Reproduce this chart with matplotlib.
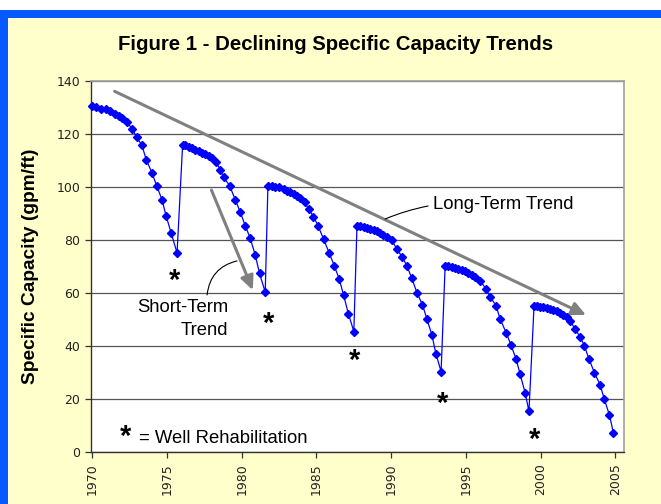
import matplotlib
matplotlib.use("Agg")
import matplotlib.pyplot as plt
from matplotlib.patches import Rectangle
import matplotlib.transforms as mtransforms
import numpy as np

# ---------------- data ----------------
cycle1_years = [1970.00, 1970.27, 1970.58, 1970.92, 1971.20, 1971.49, 1971.76, 1971.99, 1972.33, 1972.66,
                1972.96, 1973.32, 1973.61, 1973.99, 1974.30, 1974.66, 1974.93, 1975.28, 1975.67]
cycle1_vals = [130.3, 130.0, 129.5, 129.3, 128.6, 127.5, 126.8, 126.0, 124.3, 121.9,
               118.8, 115.6, 110.2, 105.3, 100.5, 95.2, 89.2, 82.5, 75.1]

cycle2_years = [1976.04, 1976.22, 1976.44, 1976.67, 1976.89, 1977.11, 1977.34, 1977.56, 1977.78, 1978.01,
                1978.29, 1978.56, 1978.78, 1979.18, 1979.57, 1979.90, 1980.23, 1980.57, 1980.90, 1981.19, 1981.57]
cycle2_vals = [115.8, 115.6, 115.0, 114.6, 114.0, 113.5, 112.9, 112.5, 111.6, 110.9,
               109.3, 106.5, 103.7, 100.5, 95.1, 90.5, 85.4, 80.6, 74.3, 67.4, 60.3]

cycle3_years = [1981.75, 1982.02, 1982.24, 1982.51, 1982.80, 1983.02, 1983.24, 1983.47, 1983.69, 1983.91,
                1984.20, 1984.47, 1984.80, 1985.10, 1985.47, 1985.85, 1986.19, 1986.52, 1986.81, 1987.14, 1987.50]
cycle3_vals = [100.5, 100.3, 100.0, 99.8, 99.3, 98.6, 98.0, 97.4, 96.6, 95.9,
               94.2, 91.7, 88.8, 85.4, 80.4, 75.1, 70.3, 65.3, 59.3, 52.1, 45.5]

cycle4_years = [1987.71, 1987.93, 1988.15, 1988.37, 1988.60, 1988.82, 1989.04, 1989.26, 1989.48, 1989.71,
                1990.05, 1990.38, 1990.72, 1991.05, 1991.38, 1991.72, 1992.09, 1992.39, 1992.72, 1992.99, 1993.34]
cycle4_vals = [85.4, 85.2, 84.8, 84.5, 84.2, 83.8, 83.3, 82.7, 82.0, 81.3,
               79.8, 76.6, 73.7, 70.3, 65.5, 60.2, 55.6, 50.2, 44.3, 37.2, 30.4]

cycle5_years = [1993.61, 1993.83, 1994.06, 1994.28, 1994.50, 1994.73, 1994.95, 1995.17, 1995.40, 1995.62,
                1995.95, 1996.35, 1996.62, 1997.02, 1997.29, 1997.69, 1998.01, 1998.36, 1998.63, 1998.96, 1999.22]
cycle5_vals = [70.3, 70.2, 70.0, 69.4, 69.1, 68.7, 68.2, 67.6, 66.9, 66.2,
               64.7, 61.5, 58.6, 55.2, 50.2, 45.1, 40.5, 35.1, 29.4, 22.5, 15.4]

cycle6_years = [1999.56, 1999.75, 1999.97, 2000.19, 2000.41, 2000.64, 2000.86, 2001.08, 2001.31, 2001.53,
                2001.75, 2001.97, 2002.31, 2002.64, 2002.93, 2003.24, 2003.60, 2003.98, 2004.27, 2004.60, 2004.87]
cycle6_vals = [55.2, 55.2, 54.9, 54.6, 54.3, 54.0, 53.6, 53.1, 52.5, 51.8,
               51.1, 49.6, 46.4, 43.5, 40.1, 35.1, 30.0, 25.4, 19.9, 14.1, 7.4]

rehab_years = [1975.53, 1981.78, 1987.58, 1993.45, 1999.57]
rehab_marks = [67.7, 51.5, 37.7, 21.6, 7.8]

long_trend_start = (1971.49, 136.0)
long_trend_end = (2003.04, 51.7)
short_trend_start = (1977.97, 98.8)
short_trend_end = (1980.74, 61.1)

y_ticks = [0, 20, 40, 60, 80, 100, 120, 140]
x_ticks = [1970, 1975, 1980, 1985, 1990, 1995, 2000, 2005]

title = "Figure 1 - Declining Specific Capacity Trends"
y_label = "Specific Capacity (gpm/ft)"

years = cycle1_years + cycle2_years + cycle3_years + cycle4_years + cycle5_years + cycle6_years
values = cycle1_vals + cycle2_vals + cycle3_vals + cycle4_vals + cycle5_vals + cycle6_vals

# ---------------- figure ----------------
W, H = 661, 504
fig = plt.figure(figsize=(W / 100, H / 100), dpi=100)
fig.patch.set_facecolor("#FFFFCC")

BLUE = "#0659FF"
fig.patches.append(Rectangle((0, 1 - 10 / H), 1, 10 / H, transform=fig.transFigure,
                             facecolor="white", edgecolor="none", zorder=0))
fig.patches.append(Rectangle((0, 1 - 17.5 / H), 1, 7.5 / H, transform=fig.transFigure,
                             facecolor=BLUE, edgecolor="none", zorder=0))
fig.patches.append(Rectangle((0, 0), 7.5 / W, 1 - 10 / H, transform=fig.transFigure,
                             facecolor=BLUE, edgecolor="none", zorder=0))

ax = fig.add_axes([91 / W, (H - 452.3) / H, (624 - 91) / W, (452.3 - 80.7) / H])
ax.set_facecolor("white")

ax.plot(years, values, color="#0000FF", lw=0.9, marker="D", markersize=4.3,
        markerfacecolor="#0000FF", markeredgecolor="#0000FF", zorder=4, clip_on=False)

ax.set_xlim(1969.91, 2005.58)
ax.set_ylim(0, 140)
ax.set_yticks(y_ticks)
ax.set_xticks(x_ticks)
ax.set_xticklabels([str(t) for t in x_ticks], rotation=90)
ax.grid(axis="y", color="#555555", lw=0.9)
ax.set_axisbelow(True)

for s in ["left", "bottom"]:
    ax.spines[s].set_color("#333333")
    ax.spines[s].set_linewidth(1.0)
for s in ["top", "right"]:
    ax.spines[s].set_color("#A0A0A0")
    ax.spines[s].set_linewidth(1.2)

ax.tick_params(axis="both", direction="out", length=4.3, width=0.9, color="#333333",
               labelsize=9, labelcolor="#222222", pad=3.5)
for lab in ax.get_xticklabels() + ax.get_yticklabels():
    lab.set_fontfamily("DejaVu Sans")

# trend arrows
arrow_kw = dict(arrowstyle="-|>,head_length=0.6,head_width=0.28", color="#808080", lw=2.2,
                mutation_scale=14, shrinkA=0, shrinkB=0)
ax.annotate("", xy=long_trend_end, xytext=long_trend_start, arrowprops=arrow_kw, zorder=3)
ax.annotate("", xy=short_trend_end, xytext=short_trend_start, arrowprops=arrow_kw, zorder=3)

# labels with leader lines
txt_font = dict(family="Liberation Sans", fontsize=13.3, color="black")
ax.text(1992.8, 93.2, "Long-Term Trend", ha="left", va="center", **txt_font)
ax.annotate("", xy=(1992.47, 92.8), xytext=(1989.59, 87.9),
            arrowprops=dict(arrowstyle="-", color="black", lw=0.8, shrinkA=0, shrinkB=0,
                            connectionstyle="arc3,rad=-0.05"))
ax.text(1979.08, 54.7, "Short-Term", ha="right", va="center", **txt_font)
ax.text(1979.08, 45.7, "Trend", ha="right", va="center", **txt_font)
ax.annotate("", xy=(1979.68, 72.1), xytext=(1977.68, 59.3),
            arrowprops=dict(arrowstyle="-", color="black", lw=0.8, shrinkA=0, shrinkB=0,
                            connectionstyle="arc3,rad=-0.35"))

# rehabilitation asterisks
ast_font = dict(family="Liberation Sans", fontweight="bold", fontsize=21, color="black")
ast_shift = mtransforms.offset_copy(ax.transData, fig=fig, x=0, y=-12.0, units="points")
for xr, yr in zip(rehab_years, rehab_marks):
    ax.text(xr, yr, "*", ha="center", va="baseline", transform=ast_shift, **ast_font)
ax.text(1972.22, 9.2, "*", ha="center", va="baseline", transform=ast_shift, **ast_font)
ax.text(1973.13, 3.6, "= Well Rehabilitation", ha="left", va="baseline", **txt_font)

# title and y label
fig.text(336 / W, 1 - 45 / H, title, ha="center", va="center",
         family="Liberation Sans", fontweight="bold", fontsize=14.7)
fig.text(31 / W, 1 - 266 / H, y_label, ha="center", va="center", rotation=90,
         family="Liberation Sans", fontweight="bold", fontsize=13.8)

fig.savefig("out.png", dpi=100, facecolor=fig.get_facecolor())
